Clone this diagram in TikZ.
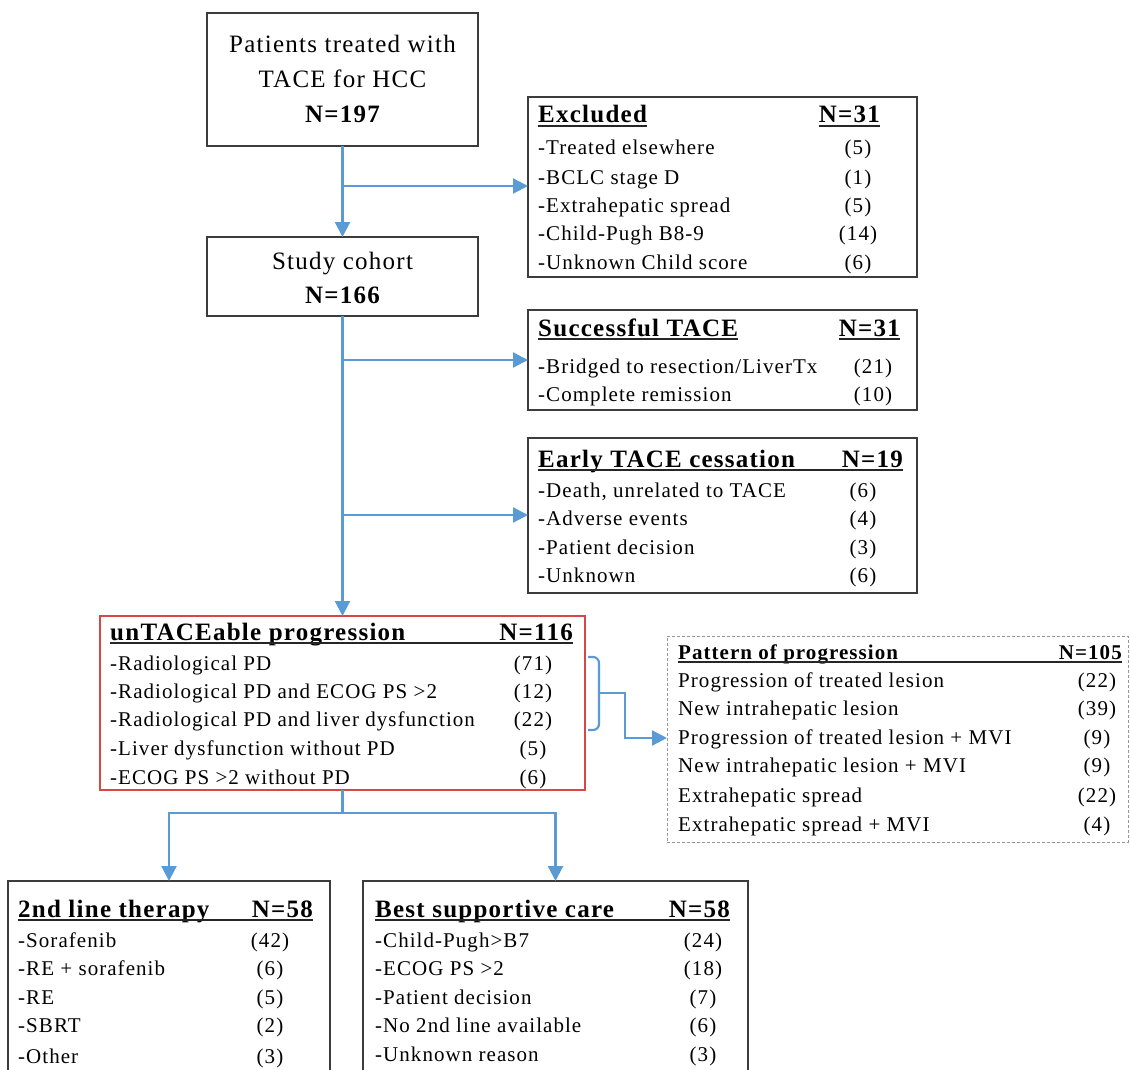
\documentclass[tikz,border=0pt]{standalone}
\usepackage{fontspec}
\setmainfont{Liberation Serif}
\newfontfamily\trk{Liberation Serif}[LetterSpace=5]
\usetikzlibrary{arrows.meta}
\definecolor{bluec}{RGB}{91,155,213}
\definecolor{redc}{RGB}{218,70,70}
\definecolor{boxgray}{RGB}{60,60,60}
\definecolor{dashgray}{RGB}{150,150,150}
\newcommand{\rowf}{\trk\fontsize{21}{25}\selectfont}
\newcommand{\hdf}{\trk\bfseries\fontsize{25}{30}\selectfont}
\newcommand{\phdf}{\trk\bfseries\fontsize{21}{25}\selectfont}
\newcommand{\topf}{\trk\fontsize{25}{35}\selectfont}
\tikzset{
  box/.style={draw=boxgray, line width=1.8pt, inner sep=0pt, outer sep=0pt},
  redbox/.style={box, draw=redc},
  dashbox/.style={draw=dashgray, line width=1pt, dash pattern=on 3pt off 2pt, inner sep=0pt, outer sep=0pt},
  row/.style={anchor=base west, inner sep=0pt, font=\rowf},
  num/.style={anchor=base, inner sep=0pt, font=\rowf},
  hd/.style={anchor=base west, inner sep=0pt, font=\hdf},
  hdn/.style={anchor=base east, inner sep=0pt, font=\hdf},
  phd/.style={anchor=base west, inner sep=0pt, font=\phdf},
  phdn/.style={anchor=base east, inner sep=0pt, font=\phdf},
  toptxt/.style={anchor=base, inner sep=0pt, font=\topf},
  conn/.style={draw=bluec, line width=2.2pt},
  arr/.style={conn, -{Triangle[length=15pt,width=15pt]}},
  ul/.style={draw=black!85, line width=1.6pt}
}
\begin{document}
\begin{tikzpicture}[x=1pt,y=-1pt]
\useasboundingbox (0,0) rectangle (1130,1070);
\clip (0,0) rectangle (1130,1070);
\fill[white] (0,0) rectangle (1130,1070);

% ---- boxes
\node[box, minimum width=271, minimum height=133] (top) at (342.5,79.5) {};
\node[box, minimum width=271, minimum height=79] (cohort) at (342.5,276.5) {};
\node[box, minimum width=389, minimum height=180] (excl) at (722.5,187) {};
\node[box, minimum width=389, minimum height=100] (succ) at (722.5,360) {};
\node[box, minimum width=389, minimum height=155] (early) at (722.5,515.5) {};
\node[redbox, minimum width=485, minimum height=174] (untace) at (342.5,703) {};
\node[dashbox, minimum width=461, minimum height=206] (pattern) at (897.5,739) {};
\node[box, minimum width=322, minimum height=219] (second) at (169,990.5) {};
\node[box, minimum width=385, minimum height=219] (bsc) at (555.5,990.5) {};

% ---- top box text
\node[toptxt] (t1) at (342.5,53) {Patients treated with};
\node[toptxt] (t2) at (342.5,88) {TACE for HCC};
\node[toptxt, font=\topf\bfseries] (t3) at (342.5,123) {N=197};
\node[toptxt] (c1) at (342.5,269) {Study cohort};
\node[toptxt, font=\topf\bfseries] (c2) at (342.5,303) {N=166};

% ---- Excluded
\node[hd] (exh) at (538,123) {Excluded};
\node[hdn] (exn) at (880,123) {N=31};
\draw[ul] ([yshift=-3pt]exh.base west) -- ([yshift=-3pt]exh.base east);
\draw[ul] ([yshift=-3pt]exn.base west) -- ([yshift=-3pt]exn.base east);
\node[row] (ex1) at (538,155) {-Treated elsewhere};
\node[row] (ex2) at (538,184) {-BCLC stage D};
\node[row] (ex3) at (538,212) {-Extrahepatic spread};
\node[row] (ex4) at (538,240) {-Child-Pugh B8-9};
\node[row] (ex5) at (538,269) {-Unknown Child score};
\node[num] (exn1) at (858,155) {(5)};
\node[num] (exn2) at (858,184) {(1)};
\node[num] (exn3) at (858,212) {(5)};
\node[num] (exn4) at (858,240) {(14)};
\node[num] (exn5) at (858,269) {(6)};

% ---- Successful TACE
\node[hd] (suh) at (538,336) {Successful TACE};
\node[hdn] (sun) at (900,336) {N=31};
\draw[ul] ([yshift=-3pt]suh.base west) -- ([yshift=-3pt]suh.base east);
\draw[ul] ([yshift=-3pt]sun.base west) -- ([yshift=-3pt]sun.base east);
\node[row] (su1) at (538,373) {-Bridged to resection/LiverTx};
\node[row] (su2) at (538,401) {-Complete remission};
\node[num] (sun1) at (873,373) {(21)};
\node[num] (sun2) at (873,401) {(10)};

% ---- Early TACE cessation
\node[hd] (eah) at (538,467) {Early TACE cessation};
\node[hdn] (ean) at (903,467) {N=19};
\draw[ul] ([yshift=-3pt]eah.base west) -- ([yshift=-3pt]ean.base east);
\node[row] (ea1) at (538,497) {-Death, unrelated to TACE};
\node[row] (ea2) at (538,525) {-Adverse events};
\node[row] (ea3) at (538,554) {-Patient decision};
\node[row] (ea4) at (538,582) {-Unknown};
\node[num] (ean1) at (863,497) {(6)};
\node[num] (ean2) at (863,525) {(4)};
\node[num] (ean3) at (863,554) {(3)};
\node[num] (ean4) at (863,582) {(6)};

% ---- unTACEable progression
\node[hd] (unh) at (110,640) {unTACEable progression};
\node[hdn] (unn) at (573,640) {N=116};
\draw[ul] ([yshift=-3pt]unh.base west) -- ([yshift=-3pt]unn.base east);
\node[row] (un1) at (110,670) {-Radiological PD};
\node[row] (un2) at (110,698) {-Radiological PD and ECOG PS >2};
\node[row] (un3) at (110,726) {-Radiological PD and liver dysfunction};
\node[row] (un4) at (110,755) {-Liver dysfunction without PD};
\node[row] (un5) at (110,784) {-ECOG PS >2 without PD};
\node[num] (unn1) at (533,670) {(71)};
\node[num] (unn2) at (533,698) {(12)};
\node[num] (unn3) at (533,726) {(22)};
\node[num] (unn4) at (533,755) {(5)};
\node[num] (unn5) at (533,784) {(6)};

% ---- Pattern of progression
\node[phd] (pah) at (678,659) {Pattern of progression};
\node[phdn] (pan) at (1122,659) {N=105};
\draw[ul] ([yshift=-3pt]pah.base west) -- ([yshift=-3pt]pan.base east);
\node[row] (pa1) at (678,687) {Progression of treated lesion};
\node[row] (pa2) at (678,715) {New intrahepatic lesion};
\node[row] (pa3) at (678,744) {Progression of treated lesion + MVI};
\node[row] (pa4) at (678,772) {New intrahepatic lesion + MVI};
\node[row] (pa5) at (678,802) {Extrahepatic spread};
\node[row] (pa6) at (678,831) {Extrahepatic spread + MVI};
\node[num] (pan1) at (1097,687) {(22)};
\node[num] (pan2) at (1097,715) {(39)};
\node[num] (pan3) at (1097,744) {(9)};
\node[num] (pan4) at (1097,772) {(9)};
\node[num] (pan5) at (1097,802) {(22)};
\node[num] (pan6) at (1097,831) {(4)};

% ---- 2nd line therapy
\node[hd] (seh) at (18,917) {2nd line therapy};
\node[hdn] (sen) at (313,917) {N=58};
\draw[ul] ([yshift=-3pt]seh.base west) -- ([yshift=-3pt]sen.base east);
\node[row] (se1) at (18,947) {-Sorafenib};
\node[row] (se2) at (18,975) {-RE + sorafenib};
\node[row] (se3) at (18,1004) {-RE};
\node[row] (se4) at (18,1032) {-SBRT};
\node[row] (se5) at (18,1063) {-Other};
\node[num] (sen1) at (270,947) {(42)};
\node[num] (sen2) at (270,975) {(6)};
\node[num] (sen3) at (270,1004) {(5)};
\node[num] (sen4) at (270,1032) {(2)};
\node[num] (sen5) at (270,1063) {(3)};

% ---- Best supportive care
\node[hd] (bsh) at (375,917) {Best supportive care};
\node[hdn] (bsn) at (730,917) {N=58};
\draw[ul] ([yshift=-3pt]bsh.base west) -- ([yshift=-3pt]bsn.base east);
\node[row] (bs1) at (375,947) {-Child-Pugh>B7};
\node[row] (bs2) at (375,975) {-ECOG PS >2};
\node[row] (bs3) at (375,1004) {-Patient decision};
\node[row] (bs4) at (375,1032) {-No 2nd line available};
\node[row] (bs5) at (375,1061) {-Unknown reason};
\node[num] (bsn1) at (703,947) {(24)};
\node[num] (bsn2) at (703,975) {(18)};
\node[num] (bsn3) at (703,1004) {(7)};
\node[num] (bsn4) at (703,1032) {(6)};
\node[num] (bsn5) at (703,1061) {(3)};

% ---- connectors
\draw[arr] (top.south) -- (cohort.north);
\coordinate (j1) at (342.5,186);
\draw[arr] (j1) -- (excl.west |- j1);
\draw[arr] (cohort.south) -- (untace.north);
\coordinate (j2) at (342.5,360);
\draw[arr] (j2) -- (succ.west |- j2);
\coordinate (j3) at (342.5,515);
\draw[arr] (j3) -- (early.west |- j3);
\coordinate (j4) at (342.5,813);
\draw[conn] (untace.south) -- (j4);
\draw[arr] (j4) -| (second.north);
\draw[arr] (j4) -| (bsc.north);

% ---- brace and arrow to pattern
\coordinate (brtop) at (588,657);
\coordinate (brbot) at (588,730);
\coordinate (brtip) at (599,693);
\coordinate (k1) at (625,693);
\coordinate (k2) at (625,738);
\draw[conn, rounded corners=6pt] (brtop) -| (brtip) |- (brbot);
\draw[arr] (brtip) -- (k1) -- (k2) -- (pattern.west |- k2);
\end{tikzpicture}
\end{document}
